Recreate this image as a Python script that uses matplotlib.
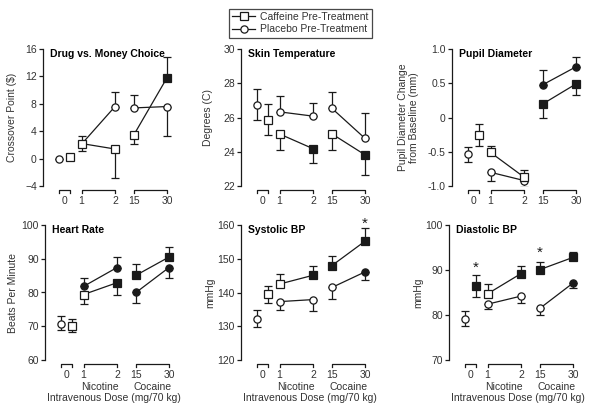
import numpy as np
import matplotlib
matplotlib.use("Agg")
import matplotlib.pyplot as plt
from matplotlib.lines import Line2D
from matplotlib import transforms

plt.rcParams['font.family'] = ['Liberation Sans', 'DejaVu Sans']
plt.rcParams['font.size'] = 7.5

dose_labels = ['0', '1', '2', '15', '30']

# dose order: 0, 1, 2 (nicotine), 15, 30 (cocaine)
money_plc = [0.0, 2.1, 7.6, 7.4, 7.6]
money_plc_lo = [0, 0, 0, 0, 4.3]
money_plc_hi = [0, 1.2, 2.1, 1.9, 0]
money_plc_fill = [0, 0, 0, 0, 0]
money_caf = [0.3, 2.2, 1.4, 3.5, 11.8]
money_caf_lo = [0, 1.1, 4.2, 1.3, 0]
money_caf_hi = [0, 0, 0, 0, 3.1]
money_caf_fill = [0, 0, 0, 0, 1]

skin_plc = [26.73, 26.33, 26.08, 26.53, 24.78]
skin_plc_lo = [0.89, 0, 0, 0, 0]
skin_plc_hi = [0.92, 0.92, 0.78, 0.96, 1.46]
skin_plc_fill = [0, 0, 0, 0, 0]
skin_caf = [25.88, 25.04, 24.18, 25.04, 23.82]
skin_caf_lo = [0.88, 0.92, 0.85, 0.92, 1.17]
skin_caf_hi = [0.88, 0, 0, 0, 0]
skin_caf_fill = [0, 0, 1, 0, 1]

pupil_plc = [-0.54, -0.80, -0.92, 0.48, 0.74]
pupil_plc_lo = [0.11, 0.12, 0.09, 0, 0]
pupil_plc_hi = [0.11, 0, 0, 0.22, 0.15]
pupil_plc_fill = [0, 0, 0, 1, 1]
pupil_caf = [-0.26, -0.51, -0.87, 0.20, 0.49]
pupil_caf_lo = [0.16, 0, 0, 0.20, 0.16]
pupil_caf_hi = [0.16, 0.09, 0.10, 0, 0]
pupil_caf_fill = [0, 0, 0, 1, 1]

hr_plc = [70.8, 81.8, 87.4, 80.0, 87.4]
hr_plc_lo = [1.8, 0, 0, 3.0, 3.0]
hr_plc_hi = [2.2, 2.6, 3.2, 0, 0]
hr_plc_fill = [0, 1, 1, 1, 1]
hr_caf = [70.1, 79.4, 82.9, 85.1, 90.5]
hr_caf_lo = [1.8, 2.7, 3.7, 0, 0]
hr_caf_hi = [1.9, 0, 0, 3.2, 3.0]
hr_caf_fill = [0, 0, 1, 1, 1]

sys_plc = [132.2, 137.3, 137.9, 141.5, 146.1]
sys_plc_lo = [2.5, 2.4, 3.5, 3.3, 2.5]
sys_plc_hi = [2.6, 0, 0, 0, 0]
sys_plc_fill = [0, 0, 0, 0, 1]
sys_caf = [139.5, 142.5, 145.1, 148.0, 155.2]
sys_caf_lo = [2.6, 0, 0, 0, 0]
sys_caf_hi = [2.4, 2.9, 2.7, 2.8, 4.0]
sys_caf_fill = [0, 0, 1, 1, 1]

dia_plc = [79.2, 82.4, 84.2, 81.5, 87.1]
dia_plc_lo = [1.6, 1.1, 1.5, 1.4, 1.2]
dia_plc_hi = [1.7, 0, 0, 0, 0]
dia_plc_fill = [0, 0, 0, 0, 1]
dia_caf = [86.5, 84.7, 89.2, 90.1, 92.8]
dia_caf_lo = [2.4, 0, 0, 0, 0]
dia_caf_hi = [2.3, 2.1, 1.6, 1.7, 1.1]
dia_caf_fill = [1, 0, 1, 1, 1]

titles = ['Drug vs. Money Choice', 'Skin Temperature', 'Pupil Diameter',
          'Heart Rate', 'Systolic BP', 'Diastolic BP']
ylabels = ['Crossover Point ($)', 'Degrees (C)', 'Pupil Diameter Change\nfrom Baseline (mm)',
           'Beats Per Minute', 'mmHg', 'mmHg']
yticks = [[-4, 0, 4, 8, 12, 16], [22, 24, 26, 28, 30], [-1.0, -0.5, 0, 0.5, 1.0],
          [60, 70, 80, 90, 100], [120, 130, 140, 150, 160], [70, 80, 90, 100]]
yticklabels = [None, None, ['-1.0', '-0.5', '0', '0.5', '1.0'], None, None, None]

# significance stars: panel index, dose index, y value
stars = [(4, 4, 160.3), (5, 0, 90.6), (5, 3, 93.9)]

panels = [
    (money_plc, money_plc_lo, money_plc_hi, money_plc_fill, money_caf, money_caf_lo, money_caf_hi, money_caf_fill),
    (skin_plc, skin_plc_lo, skin_plc_hi, skin_plc_fill, skin_caf, skin_caf_lo, skin_caf_hi, skin_caf_fill),
    (pupil_plc, pupil_plc_lo, pupil_plc_hi, pupil_plc_fill, pupil_caf, pupil_caf_lo, pupil_caf_hi, pupil_caf_fill),
    (hr_plc, hr_plc_lo, hr_plc_hi, hr_plc_fill, hr_caf, hr_caf_lo, hr_caf_hi, hr_caf_fill),
    (sys_plc, sys_plc_lo, sys_plc_hi, sys_plc_fill, sys_caf, sys_caf_lo, sys_caf_hi, sys_caf_fill),
    (dia_plc, dia_plc_lo, dia_plc_hi, dia_plc_fill, dia_caf, dia_caf_lo, dia_caf_hi, dia_caf_fill),
]

# layout (pixels of a 600x415 figure)
W, H = 600, 415
lefts = [43, 241, 452, 45, 241, 449]
tops = [49, 49, 49, 225, 225, 225]
bottoms = [186, 186, 186, 360, 360, 360]
ylabel_dx = [-26, -28, -33, -27, -26, -26]
ax_w = 132
x_plc0, x_caf0 = 16, 27
x_dose = [38.5, 72, 91, 124]

fig = plt.figure(figsize=(6, 4.15), dpi=100)
LC = '#1a1a1a'
TC = '#333333'


def draw_series(ax, xs, y, lo, hi, fill, marker):
    ax.plot(xs[1:3], y[1:3], color=LC, lw=0.9, zorder=2)
    ax.plot(xs[3:5], y[3:5], color=LC, lw=0.9, zorder=2)
    ax.errorbar(xs, y, yerr=[lo, hi], fmt='none', ecolor=LC, elinewidth=0.9,
                capsize=2.6, capthick=0.9, zorder=1)
    for x, v, f in zip(xs, y, fill):
        ax.plot(x, v, marker=marker, ms=5.2, mfc=LC if f else 'white', mec=LC,
                mew=0.9, zorder=3, clip_on=False)


axes = []
for i in range(6):
    ax = fig.add_axes([lefts[i] / W, 1 - bottoms[i] / H, ax_w / W, (bottoms[i] - tops[i]) / H])
    axes.append(ax)
    plc, plo, phi, pf, caf, clo, chi, cf = panels[i]
    draw_series(ax, [x_plc0] + x_dose, plc, plo, phi, pf, 'o')
    draw_series(ax, [x_caf0] + x_dose, caf, clo, chi, cf, 's')

    ax.set_xlim(0, ax_w)
    ax.set_ylim(yticks[i][0], yticks[i][-1])
    ax.set_yticks(yticks[i])
    if yticklabels[i]:
        ax.set_yticklabels(yticklabels[i])
    for s in ['top', 'right', 'bottom']:
        ax.spines[s].set_visible(False)
    ax.spines['left'].set_linewidth(0.9)
    ax.spines['left'].set_color(LC)
    ax.set_xticks([])
    ax.tick_params(axis='y', length=3, width=0.9, pad=1.5, colors=LC, labelcolor=TC)
    ax.patch.set_alpha(0)

    hpx = bottoms[i] - tops[i]
    ax.text(7 / ax_w, 1 - 5 / hpx, titles[i], transform=ax.transAxes, fontweight='bold',
            ha='left', va='center', fontsize=7.5)
    ax.set_ylabel(ylabels[i], fontsize=7.5, color=TC, linespacing=1.1)
    ax.yaxis.set_label_coords(ylabel_dx[i] / ax_w, 0.5)

    # dose brackets below the axis
    tr = transforms.blended_transform_factory(ax.transData, ax.transAxes)
    yb = -4 / hpx
    yt = -7 / hpx
    for x1, x2 in [(x_plc0, x_caf0), (x_dose[0], x_dose[1]), (x_dose[2], x_dose[3])]:
        ax.plot([x1, x1, x2, x2], [yt, yb, yb, yt], color=LC, lw=0.9,
                transform=tr, clip_on=False)
    lab_x = [(x_plc0 + x_caf0) / 2] + x_dose
    for x, lab in zip(lab_x, dose_labels):
        ax.text(x, -15 / hpx, lab, transform=tr, ha='center', va='center', fontsize=7.5,
                color=TC)
    if i >= 3:
        ax.text((x_dose[0] + x_dose[1]) / 2, -27 / hpx, 'Nicotine', transform=tr,
                ha='center', va='center', fontsize=7.5, color=TC)
        ax.text((x_dose[2] + x_dose[3]) / 2, -27 / hpx, 'Cocaine', transform=tr,
                ha='center', va='center', fontsize=7.5, color=TC)
        ax.text(69, -38 / hpx, 'Intravenous Dose (mg/70 kg)', transform=tr,
                ha='center', va='center', fontsize=7.5, color=TC)

for p, d, yv in stars:
    xs = [x_caf0] + x_dose
    axes[p].text(xs[d], yv, '*', ha='center', va='center', fontsize=11, color=LC, clip_on=False)

handles = [
    Line2D([], [], color=LC, lw=0.9, marker='s', ms=5.2, mfc='white', mec=LC, mew=0.9),
    Line2D([], [], color=LC, lw=0.9, marker='o', ms=5.2, mfc='white', mec=LC, mew=0.9),
]
leg = fig.legend(handles, ['Caffeine Pre-Treatment', 'Placebo Pre-Treatment'],
                 loc='upper center', bbox_to_anchor=(0.501, 0.979), frameon=True,
                 fancybox=False, edgecolor=LC, fontsize=7.5, handlelength=2.2,
                 handletextpad=0.5, borderpad=0.3, labelspacing=0.25, borderaxespad=0)
leg.get_frame().set_linewidth(0.9)
for t in leg.get_texts():
    t.set_color(TC)

fig.savefig('out.png', dpi=100)
